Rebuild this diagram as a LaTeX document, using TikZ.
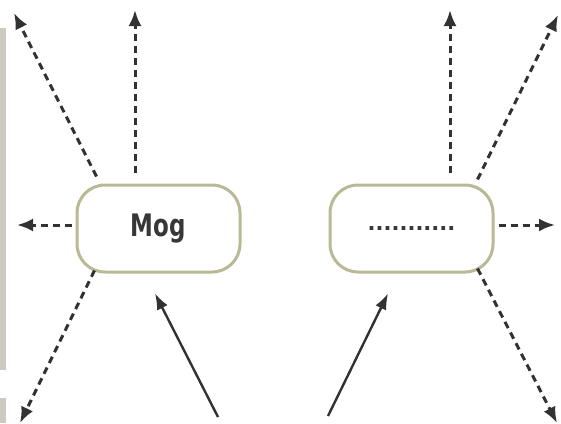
\documentclass[tikz,border=0pt]{standalone}
\usepackage{fontspec}
\setmainfont{DejaVu Sans}
\usetikzlibrary{arrows.meta}

\definecolor{boxline}{RGB}{185,185,150}
\definecolor{arrowgrey}{RGB}{50,50,50}
\definecolor{textgrey}{RGB}{55,55,55}
\definecolor{edgebar}{RGB}{205,200,192}

\begin{document}
\begin{tikzpicture}[x=1pt, y=-1pt,
    capsule/.style={draw=boxline, line width=3pt, rounded corners=28pt,
        minimum width=163pt, minimum height=87pt, inner sep=0pt, fill=white,
        text=textgrey},
    dasharrow/.style={draw=arrowgrey, line width=3pt, dash pattern=on 7pt off 5pt,
        -{Latex[length=16pt,width=13pt]}},
    solidarrow/.style={draw=arrowgrey, line width=2.4pt,
        -{Latex[length=16pt,width=12pt]}}]

    \useasboundingbox (0,0) rectangle (561,423);
    \fill[white] (0,0) rectangle (561,423);
    \fill[edgebar] (0,28) rectangle (6,370);
    \fill[edgebar] (0,398) rectangle (6,423);

    \coordinate (mogUL) at (14,13);
    \coordinate (mogUp) at (135,10);
    \coordinate (mogL) at (17,225);
    \coordinate (mogDL) at (20,423);
    \coordinate (mogIn) at (218,417);

    \coordinate (blankUp) at (450,10);
    \coordinate (blankUR) at (558,15);
    \coordinate (blankR) at (555,225);
    \coordinate (blankDR) at (557,423);
    \coordinate (blankIn) at (328,416);

    \node[capsule] (mog) at (158.5,228.5)
        {\fontsize{31}{31}\selectfont\scalebox{0.74}[1]{\bfseries Mog}};
    \node[capsule] (blank) at (411.5,228.5)
        {\fontsize{21}{21}\selectfont\bfseries ...........};

    % left box
    \draw[dasharrow] ([xshift=21pt,yshift=7pt]mog.north west) -- (mogUL);
    \draw[dasharrow] ([xshift=-23.5pt,yshift=11pt]mog.north) -- (mogUp);
    \draw[dasharrow] ([xshift=-4pt,yshift=3.5pt]mog.west) -- (mogL);
    \draw[dasharrow] ([xshift=19pt,yshift=3pt]mog.south west) -- (mogDL);
    \draw[solidarrow] (mogIn) -- ([xshift=-3.5pt,yshift=-20pt]mog.south);

    % right box
    \draw[dasharrow] ([xshift=38.5pt,yshift=11pt]blank.north) -- (blankUp);
    \draw[dasharrow] ([xshift=-17pt,yshift=4pt]blank.north east) -- (blankUR);
    \draw[dasharrow] ([xshift=4pt,yshift=3.5pt]blank.east) -- (blankR);
    \draw[dasharrow] ([xshift=-17pt,yshift=5pt]blank.south east) -- (blankDR);
    \draw[solidarrow] (blankIn) -- ([xshift=-23.5pt,yshift=-20pt]blank.south);
\end{tikzpicture}
\end{document}
